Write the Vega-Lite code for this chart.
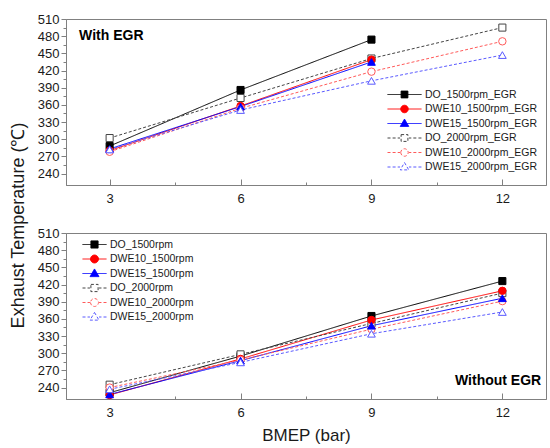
{
  "$schema": "https://vega.github.io/schema/vega-lite/v6.json",
  "padding": {"left": 8, "top": 12, "right": 0, "bottom": 3},
  "datasets": {
    "egr": [
      {"series": "DO_1500rpm_EGR", "bmep": 3, "temp": 288},
      {"series": "DO_1500rpm_EGR", "bmep": 6, "temp": 386},
      {"series": "DO_1500rpm_EGR", "bmep": 9, "temp": 474},
      {"series": "DWE10_1500rpm_EGR", "bmep": 3, "temp": 280},
      {"series": "DWE10_1500rpm_EGR", "bmep": 6, "temp": 358},
      {"series": "DWE10_1500rpm_EGR", "bmep": 9, "temp": 439},
      {"series": "DWE15_1500rpm_EGR", "bmep": 3, "temp": 283},
      {"series": "DWE15_1500rpm_EGR", "bmep": 6, "temp": 357},
      {"series": "DWE15_1500rpm_EGR", "bmep": 9, "temp": 435},
      {"series": "DO_2000rpm_EGR", "bmep": 3, "temp": 302},
      {"series": "DO_2000rpm_EGR", "bmep": 6, "temp": 372},
      {"series": "DO_2000rpm_EGR", "bmep": 9, "temp": 441},
      {"series": "DO_2000rpm_EGR", "bmep": 12, "temp": 495},
      {"series": "DWE10_2000rpm_EGR", "bmep": 3, "temp": 278},
      {"series": "DWE10_2000rpm_EGR", "bmep": 6, "temp": 354},
      {"series": "DWE10_2000rpm_EGR", "bmep": 9, "temp": 418},
      {"series": "DWE10_2000rpm_EGR", "bmep": 12, "temp": 471},
      {"series": "DWE15_2000rpm_EGR", "bmep": 3, "temp": 282},
      {"series": "DWE15_2000rpm_EGR", "bmep": 6, "temp": 351},
      {"series": "DWE15_2000rpm_EGR", "bmep": 9, "temp": 402},
      {"series": "DWE15_2000rpm_EGR", "bmep": 12, "temp": 447}
    ],
    "noegr": [
      {"series": "DO_1500rpm", "bmep": 3, "temp": 231},
      {"series": "DO_1500rpm", "bmep": 6, "temp": 295},
      {"series": "DO_1500rpm", "bmep": 9, "temp": 365},
      {"series": "DO_1500rpm", "bmep": 12, "temp": 426},
      {"series": "DWE10_1500rpm", "bmep": 3, "temp": 227},
      {"series": "DWE10_1500rpm", "bmep": 6, "temp": 290},
      {"series": "DWE10_1500rpm", "bmep": 9, "temp": 358},
      {"series": "DWE10_1500rpm", "bmep": 12, "temp": 409},
      {"series": "DWE15_1500rpm", "bmep": 3, "temp": 228},
      {"series": "DWE15_1500rpm", "bmep": 6, "temp": 287},
      {"series": "DWE15_1500rpm", "bmep": 9, "temp": 348},
      {"series": "DWE15_1500rpm", "bmep": 12, "temp": 396},
      {"series": "DO_2000rpm", "bmep": 3, "temp": 245},
      {"series": "DO_2000rpm", "bmep": 6, "temp": 298},
      {"series": "DO_2000rpm", "bmep": 9, "temp": 352},
      {"series": "DO_2000rpm", "bmep": 12, "temp": 405},
      {"series": "DWE10_2000rpm", "bmep": 3, "temp": 240},
      {"series": "DWE10_2000rpm", "bmep": 6, "temp": 288},
      {"series": "DWE10_2000rpm", "bmep": 9, "temp": 342},
      {"series": "DWE10_2000rpm", "bmep": 12, "temp": 391},
      {"series": "DWE15_2000rpm", "bmep": 3, "temp": 237},
      {"series": "DWE15_2000rpm", "bmep": 6, "temp": 284},
      {"series": "DWE15_2000rpm", "bmep": 9, "temp": 334},
      {"series": "DWE15_2000rpm", "bmep": 12, "temp": 372}
    ]
  },
  "config": {
    "font": "Liberation Sans",
    "view": {"stroke": "#808080"},
    "axis": {
      "grid": false,
      "domainColor": "#808080",
      "tickColor": "#808080",
      "labelFont": "Liberation Sans",
      "labelFontSize": 13,
      "labelColor": "#1a1a1a",
      "titleFont": "Liberation Sans",
      "titleFontWeight": "normal",
      "titleColor": "#1a1a1a"
    },
    "legend": {
      "labelFont": "Liberation Sans",
      "labelFontSize": 10.5,
      "labelColor": "#1a1a1a",
      "padding": 0,
      "rowPadding": 1.5,
      "labelOffset": 3,
      "clipHeight": 13,
      "symbolStrokeWidth": 1,
      "symbolOpacity": 1
    }
  },
  "spacing": 48,
  "bounds": "flush",
  "resolve": {
    "scale": {"stroke": "independent", "fill": "independent", "shape": "independent", "strokeDash": "independent"},
    "legend": {"stroke": "independent", "fill": "independent", "shape": "independent"}
  },
  "vconcat": [
    {
      "width": 480,
      "height": 166,
      "data": {"name": "egr"},
      "encoding": {
        "x": {
          "field": "bmep", "type": "quantitative",
          "scale": {"domain": [2, 13], "nice": false, "zero": false},
          "axis": {
            "title": null,
            "values": [3, 4.5, 6, 7.5, 9, 10.5, 12],
            "labelExpr": "datum.value % 3 == 0 ? datum.label : ''",
            "tickSize": -6,
            "tickDash": {"condition": {"test": "datum.value % 3 != 0", "value": [3, 10]}, "value": [6, 0]},
            "labelPadding": 13
          }
        },
        "y": {
          "field": "temp", "type": "quantitative",
          "scale": {"domain": [220, 510], "nice": false, "zero": false},
          "axis": {
            "title": null,
            "values": [240, 255, 270, 285, 300, 315, 330, 345, 360, 375, 390, 405, 420, 435, 450, 465, 480, 495, 510],
            "labelExpr": "datum.value % 30 == 0 ? datum.label : ''",
            "tickSize": 5,
            "tickDash": {"condition": {"test": "datum.value % 30 != 0", "value": [3, 10]}, "value": [5, 0]},
            "labelPadding": 2
          }
        }
      },
      "layer": [
        {
          "mark": {"type": "line", "strokeWidth": 1},
          "encoding": {
            "stroke": {
              "field": "series", "type": "nominal",
              "scale": {
                "domain": ["DO_1500rpm_EGR", "DWE10_1500rpm_EGR", "DWE15_1500rpm_EGR", "DO_2000rpm_EGR", "DWE10_2000rpm_EGR", "DWE15_2000rpm_EGR"],
                "range": ["#000000", "#ff0000", "#0000ff", "#444444", "#ff5a5a", "#5a5aff"]
              },
              "legend": {"title": null, "orient": "none", "legendX": 321, "legendY": 69, "symbolSize": 1156}
            },
            "strokeDash": {
              "field": "series", "type": "nominal",
              "scale": {
                "domain": ["DO_1500rpm_EGR", "DWE10_1500rpm_EGR", "DWE15_1500rpm_EGR", "DO_2000rpm_EGR", "DWE10_2000rpm_EGR", "DWE15_2000rpm_EGR"],
                "range": [[1, 0], [1, 0], [1, 0], [3, 2], [3, 2], [3, 2]]
              },
              "legend": null
            }
          }
        },
        {
          "transform": [{"filter": "indexof(datum.series, 'DO_') == 0"}],
          "mark": {"type": "point", "shape": "square", "filled": true, "opacity": 1, "size": 50, "strokeWidth": 1},
          "encoding": {
            "stroke": {"field": "series", "type": "nominal", "legend": {"title": null, "orient": "none", "legendX": 321, "legendY": 69, "symbolSize": 1156}},
            "fill": {
              "field": "series", "type": "nominal",
              "scale": {
                "domain": ["DO_1500rpm_EGR", "DWE10_1500rpm_EGR", "DWE15_1500rpm_EGR", "DO_2000rpm_EGR", "DWE10_2000rpm_EGR", "DWE15_2000rpm_EGR"],
                "range": ["#000000", "#ff0000", "#0000ff", "#ffffff", "#ffffff", "#ffffff"]
              },
              "legend": {"title": null, "orient": "none", "legendX": 321, "legendY": 69, "symbolSize": 1156}
            }
          }
        },
        {
          "transform": [{"filter": "indexof(datum.series, 'DWE10') == 0"}],
          "mark": {"type": "point", "shape": "circle", "filled": true, "opacity": 1, "size": 55, "strokeWidth": 1},
          "encoding": {
            "stroke": {"field": "series", "type": "nominal", "legend": {"title": null, "orient": "none", "legendX": 321, "legendY": 69, "symbolSize": 1156}},
            "fill": {"field": "series", "type": "nominal", "legend": {"title": null, "orient": "none", "legendX": 321, "legendY": 69, "symbolSize": 1156}}
          }
        },
        {
          "transform": [{"filter": "indexof(datum.series, 'DWE15') == 0"}],
          "mark": {"type": "point", "shape": "triangle-up", "filled": true, "opacity": 1, "size": 60, "strokeWidth": 1},
          "encoding": {
            "stroke": {"field": "series", "type": "nominal", "legend": {"title": null, "orient": "none", "legendX": 321, "legendY": 69, "symbolSize": 1156}},
            "fill": {"field": "series", "type": "nominal", "legend": {"title": null, "orient": "none", "legendX": 321, "legendY": 69, "symbolSize": 1156}}
          }
        },
        {
          "transform": [{"filter": "false"}],
          "mark": {"type": "point", "filled": true, "opacity": 1, "strokeWidth": 1},
          "encoding": {
            "stroke": {"field": "series", "type": "nominal", "legend": {"title": null, "orient": "none", "legendX": 321, "legendY": 69, "symbolSize": 1156}},
            "fill": {"field": "series", "type": "nominal", "legend": {"title": null, "orient": "none", "legendX": 321, "legendY": 69, "symbolSize": 1156}},
            "shape": {
              "field": "series", "type": "nominal",
              "scale": {
                "domain": ["DO_1500rpm_EGR", "DWE10_1500rpm_EGR", "DWE15_1500rpm_EGR", "DO_2000rpm_EGR", "DWE10_2000rpm_EGR", "DWE15_2000rpm_EGR"],
                "range": [
                  "M-1,0H1M-0.2,-0.2H0.2V0.2H-0.2Z",
                  "M-1,0H1M-0.22,0A0.22,0.22,0,1,0,0.22,0A0.22,0.22,0,1,0,-0.22,0Z",
                  "M-1,0H1M0,-0.26L0.25,0.17H-0.25Z",
                  "M-1,0H-0.82M-0.7,0H-0.52M-0.4,0H-0.26M0.26,0H0.4M0.52,0H0.7M0.82,0H1M-0.2,-0.2H0.2V0.2H-0.2Z",
                  "M-1,0H-0.82M-0.7,0H-0.52M-0.4,0H-0.26M0.26,0H0.4M0.52,0H0.7M0.82,0H1M-0.22,0A0.22,0.22,0,1,0,0.22,0A0.22,0.22,0,1,0,-0.22,0Z",
                  "M-1,0H-0.82M-0.7,0H-0.52M-0.4,0H-0.26M0.26,0H0.4M0.52,0H0.7M0.82,0H1M0,-0.26L0.25,0.17H-0.25Z"
                ]
              },
              "legend": {"title": null, "orient": "none", "legendX": 321, "legendY": 69, "symbolSize": 1156}
            }
          }
        },
        {
          "transform": [{"filter": "datum.series == 'DO_1500rpm_EGR' && datum.bmep == 3"}],
          "mark": {"type": "text", "text": "With EGR", "font": "Liberation Sans", "fontWeight": "bold", "fontSize": 14, "align": "left", "baseline": "middle", "fill": "#000000"},
          "encoding": {
            "x": {"datum": 2.3, "type": "quantitative"},
            "y": {"datum": 481, "type": "quantitative"}
          }
        }
      ]
    },
    {
      "width": 480,
      "height": 166,
      "data": {"name": "noegr"},
      "encoding": {
        "x": {
          "field": "bmep", "type": "quantitative",
          "scale": {"domain": [2, 13], "nice": false, "zero": false},
          "axis": {
            "title": "BMEP (bar)",
            "titleFontSize": 17,
            "titlePadding": 8,
            "values": [3, 4.5, 6, 7.5, 9, 10.5, 12],
            "labelExpr": "datum.value % 3 == 0 ? datum.label : ''",
            "tickSize": -6,
            "tickDash": {"condition": {"test": "datum.value % 3 != 0", "value": [3, 10]}, "value": [6, 0]},
            "labelPadding": 13
          }
        },
        "y": {
          "field": "temp", "type": "quantitative",
          "scale": {"domain": [220, 510], "nice": false, "zero": false},
          "axis": {
            "title": "Exhaust Temperature (℃)",
            "titleFontSize": 18,
            "titlePadding": 10,
            "titleY": -8,
            "values": [240, 255, 270, 285, 300, 315, 330, 345, 360, 375, 390, 405, 420, 435, 450, 465, 480, 495, 510],
            "labelExpr": "datum.value % 30 == 0 ? datum.label : ''",
            "tickSize": 5,
            "tickDash": {"condition": {"test": "datum.value % 30 != 0", "value": [3, 10]}, "value": [5, 0]},
            "labelPadding": 2
          }
        }
      },
      "layer": [
        {
          "mark": {"type": "line", "strokeWidth": 1},
          "encoding": {
            "stroke": {
              "field": "series", "type": "nominal",
              "scale": {
                "domain": ["DO_1500rpm", "DWE10_1500rpm", "DWE15_1500rpm", "DO_2000rpm", "DWE10_2000rpm", "DWE15_2000rpm"],
                "range": ["#000000", "#ff0000", "#0000ff", "#444444", "#ff5a5a", "#5a5aff"]
              },
              "legend": {"title": null, "orient": "none", "legendX": 16, "legendY": 5, "symbolSize": 576}
            },
            "strokeDash": {
              "field": "series", "type": "nominal",
              "scale": {
                "domain": ["DO_1500rpm", "DWE10_1500rpm", "DWE15_1500rpm", "DO_2000rpm", "DWE10_2000rpm", "DWE15_2000rpm"],
                "range": [[1, 0], [1, 0], [1, 0], [3, 2], [3, 2], [3, 2]]
              },
              "legend": null
            }
          }
        },
        {
          "transform": [{"filter": "indexof(datum.series, 'DO_') == 0"}],
          "mark": {"type": "point", "shape": "square", "filled": true, "opacity": 1, "size": 50, "strokeWidth": 1},
          "encoding": {
            "stroke": {"field": "series", "type": "nominal", "legend": {"title": null, "orient": "none", "legendX": 16, "legendY": 5, "symbolSize": 576}},
            "fill": {
              "field": "series", "type": "nominal",
              "scale": {
                "domain": ["DO_1500rpm", "DWE10_1500rpm", "DWE15_1500rpm", "DO_2000rpm", "DWE10_2000rpm", "DWE15_2000rpm"],
                "range": ["#000000", "#ff0000", "#0000ff", "#ffffff", "#ffffff", "#ffffff"]
              },
              "legend": {"title": null, "orient": "none", "legendX": 16, "legendY": 5, "symbolSize": 576}
            }
          }
        },
        {
          "transform": [{"filter": "indexof(datum.series, 'DWE10') == 0"}],
          "mark": {"type": "point", "shape": "circle", "filled": true, "opacity": 1, "size": 55, "strokeWidth": 1},
          "encoding": {
            "stroke": {"field": "series", "type": "nominal", "legend": {"title": null, "orient": "none", "legendX": 16, "legendY": 5, "symbolSize": 576}},
            "fill": {"field": "series", "type": "nominal", "legend": {"title": null, "orient": "none", "legendX": 16, "legendY": 5, "symbolSize": 576}}
          }
        },
        {
          "transform": [{"filter": "indexof(datum.series, 'DWE15') == 0"}],
          "mark": {"type": "point", "shape": "triangle-up", "filled": true, "opacity": 1, "size": 60, "strokeWidth": 1},
          "encoding": {
            "stroke": {"field": "series", "type": "nominal", "legend": {"title": null, "orient": "none", "legendX": 16, "legendY": 5, "symbolSize": 576}},
            "fill": {"field": "series", "type": "nominal", "legend": {"title": null, "orient": "none", "legendX": 16, "legendY": 5, "symbolSize": 576}}
          }
        },
        {
          "transform": [{"filter": "false"}],
          "mark": {"type": "point", "filled": true, "opacity": 1, "strokeWidth": 1},
          "encoding": {
            "stroke": {"field": "series", "type": "nominal", "legend": {"title": null, "orient": "none", "legendX": 16, "legendY": 5, "symbolSize": 576}},
            "fill": {"field": "series", "type": "nominal", "legend": {"title": null, "orient": "none", "legendX": 16, "legendY": 5, "symbolSize": 576}},
            "shape": {
              "field": "series", "type": "nominal",
              "scale": {
                "domain": ["DO_1500rpm", "DWE10_1500rpm", "DWE15_1500rpm", "DO_2000rpm", "DWE10_2000rpm", "DWE15_2000rpm"],
                "range": [
                  "M-1,0H1M-0.3,-0.3H0.3V0.3H-0.3Z",
                  "M-1,0H1M-0.33,0A0.33,0.33,0,1,0,0.33,0A0.33,0.33,0,1,0,-0.33,0Z",
                  "M-1,0H1M0,-0.38L0.37,0.26H-0.37Z",
                  "M-1,0H-0.75M-0.58,0H-0.38M0.38,0H0.58M0.75,0H1M-0.3,-0.3H0.3V0.3H-0.3Z",
                  "M-1,0H-0.75M-0.58,0H-0.38M0.38,0H0.58M0.75,0H1M-0.33,0A0.33,0.33,0,1,0,0.33,0A0.33,0.33,0,1,0,-0.33,0Z",
                  "M-1,0H-0.75M-0.58,0H-0.38M0.38,0H0.58M0.75,0H1M0,-0.38L0.37,0.26H-0.37Z"
                ]
              },
              "legend": {"title": null, "orient": "none", "legendX": 16, "legendY": 5, "symbolSize": 576}
            }
          }
        },
        {
          "transform": [{"filter": "datum.series == 'DO_1500rpm' && datum.bmep == 3"}],
          "mark": {"type": "text", "text": "Without EGR", "font": "Liberation Sans", "fontWeight": "bold", "fontSize": 14, "align": "right", "baseline": "middle", "fill": "#000000"},
          "encoding": {
            "x": {"datum": 12.89, "type": "quantitative"},
            "y": {"datum": 251, "type": "quantitative"}
          }
        }
      ]
    }
  ]
}
